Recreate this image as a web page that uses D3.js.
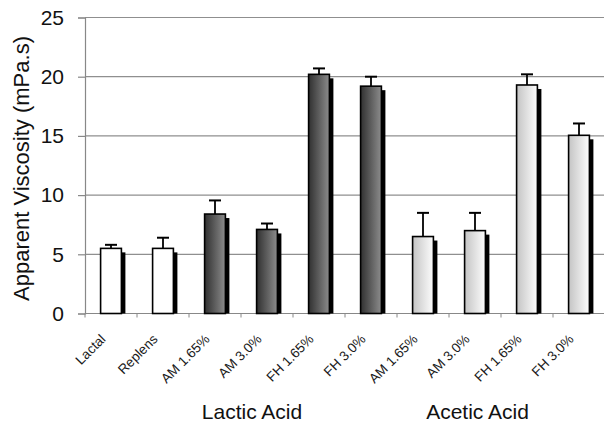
<!DOCTYPE html>
<html>
<head>
<meta charset="utf-8">
<script src="https://cdn.jsdelivr.net/npm/d3@7"></script>
<style>
  html, body { margin: 0; padding: 0; background: #fff; }
  svg { display: block; font-family: "Liberation Sans", Arial, sans-serif; }
</style>
</head>
<body>
<svg id="chart"></svg>
<script>
// ─── Apparent viscosity bar chart ────────────────────────────

const categories = ["Lactal", "Replens", "AM 1.65%", "AM 3.0%", "FH 1.65%", "FH 3.0%",
                    "AM 1.65%", "AM 3.0%", "FH 1.65%", "FH 3.0%"];
const viscosity  = [5.5, 5.5, 8.4, 7.1, 20.2, 19.2, 6.5, 7.0, 19.3, 15.05];
const errorUp    = [0.3, 0.9, 1.15, 0.5, 0.5, 0.8, 2.0, 1.5, 0.9, 1.0];
const barKind    = ["plain", "plain", "lactic", "lactic", "lactic", "lactic",
                    "acetic", "acetic", "acetic", "acetic"];
const yTicks     = [0, 5, 10, 15, 20, 25];
const groupNames = ["Lactic Acid", "Acetic Acid"];

const width = 604, height = 426;
const plotLeft = 85, plotRight = 605, plotTop = 17.5, plotBottom = 313.5;

const svg = d3.select("#chart").attr("width", width).attr("height", height);

// Gradients for the two acid series
const defs = svg.append("defs");
function gradient(id, from, to) {
  const g = defs.append("linearGradient").attr("id", id)
    .attr("x1", "0%").attr("x2", "100%").attr("y1", "0%").attr("y2", "0%");
  g.append("stop").attr("offset", "0%").attr("stop-color", from);
  g.append("stop").attr("offset", "100%").attr("stop-color", to);
}
gradient("grad-lactic", "#303030", "#8c8c8c");
gradient("grad-acetic", "#c4c4c4", "#fdfdfd");
const FILLS = { plain: "#ffffff", lactic: "url(#grad-lactic)", acetic: "url(#grad-acetic)" };

const x = d3.scaleBand()
  .domain(d3.range(categories.length))
  .range([plotLeft, plotRight])
  .paddingInner(0.6)
  .paddingOuter(0.3);

const y = d3.scaleLinear().domain([0, 25]).range([plotBottom, plotTop]);

// Gridlines
svg.append("g")
  .selectAll("line")
  .data(yTicks)
  .join("line")
  .attr("x1", plotLeft).attr("x2", width)
  .attr("y1", d => y(d)).attr("y2", d => y(d))
  .attr("stroke", "#8f8f8f").attr("stroke-width", 1.2);

// Y axis
const yAxis = svg.append("g")
  .attr("transform", `translate(${plotLeft},0)`)
  .call(d3.axisLeft(y).tickValues(yTicks).tickSize(7).tickPadding(14));
yAxis.select(".domain").attr("stroke", "#888").attr("stroke-width", 1.2);
yAxis.selectAll(".tick line").attr("stroke", "#888").attr("stroke-width", 1.2);
yAxis.selectAll(".tick text")
  .attr("font-size", "21px")
  .attr("font-family", "Liberation Sans, Arial, sans-serif")
  .attr("fill", "#111");

// X axis line with boundary ticks
const step = x.step();
svg.append("line")
  .attr("x1", plotLeft).attr("x2", width)
  .attr("y1", plotBottom).attr("y2", plotBottom)
  .attr("stroke", "#888").attr("stroke-width", 1.2);
svg.append("g")
  .selectAll("line")
  .data(d3.range(categories.length + 1))
  .join("line")
  .attr("x1", i => plotLeft + i * step).attr("x2", i => plotLeft + i * step)
  .attr("y1", plotBottom).attr("y2", plotBottom + 4)
  .attr("stroke", "#888").attr("stroke-width", 1);

// Bars: shadow, error bar, body
const bars = svg.append("g")
  .selectAll("g")
  .data(viscosity.map((v, i) => ({ i, v, e: errorUp[i], kind: barKind[i] })))
  .join("g");

bars.append("rect")
  .attr("x", d => x(d.i) + 4)
  .attr("y", d => y(d.v) + 4)
  .attr("width", x.bandwidth())
  .attr("height", d => plotBottom - y(d.v) - 4)
  .attr("fill", "#000");

bars.append("line")
  .attr("x1", d => x(d.i) + x.bandwidth() / 2)
  .attr("x2", d => x(d.i) + x.bandwidth() / 2)
  .attr("y1", d => y(d.v))
  .attr("y2", d => y(d.v + d.e))
  .attr("stroke", "#000").attr("stroke-width", 1.8);

bars.append("line")
  .attr("x1", d => x(d.i) + x.bandwidth() / 2 - 6)
  .attr("x2", d => x(d.i) + x.bandwidth() / 2 + 6)
  .attr("y1", d => y(d.v + d.e))
  .attr("y2", d => y(d.v + d.e))
  .attr("stroke", "#000").attr("stroke-width", 2);

bars.append("rect")
  .attr("x", d => x(d.i))
  .attr("y", d => y(d.v))
  .attr("width", x.bandwidth())
  .attr("height", d => plotBottom - y(d.v))
  .attr("fill", d => FILLS[d.kind])
  .attr("stroke", "#000").attr("stroke-width", 1.6);

// Category labels (rotated 45 degrees, ending under each bar)
const catLabels = svg.append("g")
  .selectAll("g")
  .data(categories)
  .join("g")
  .attr("transform", (d, i) => "translate(" + (x(i) + x.bandwidth() / 2 - 4.5) + ",340) rotate(-45)");
catLabels.append("text")
  .attr("text-anchor", "end")
  .attr("font-size", "13.5px")
  .attr("fill", "#1a1a1a")
  .text(d => d);

// Group labels
svg.append("g")
  .selectAll("text")
  .data(groupNames)
  .join("text")
  .attr("x", (d, i) => [252, 477.5][i])
  .attr("y", 419)
  .attr("text-anchor", "middle")
  .attr("font-size", "21px")
  .attr("fill", "#111")
  .text(d => d);

// Y axis title
svg.append("text")
  .attr("transform", "translate(29,168.5) rotate(-90)")
  .attr("text-anchor", "middle")
  .attr("font-size", "22px")
  .attr("fill", "#111")
  .text("Apparent Viscosity (mPa.s)");
</script>
</body>
</html>
